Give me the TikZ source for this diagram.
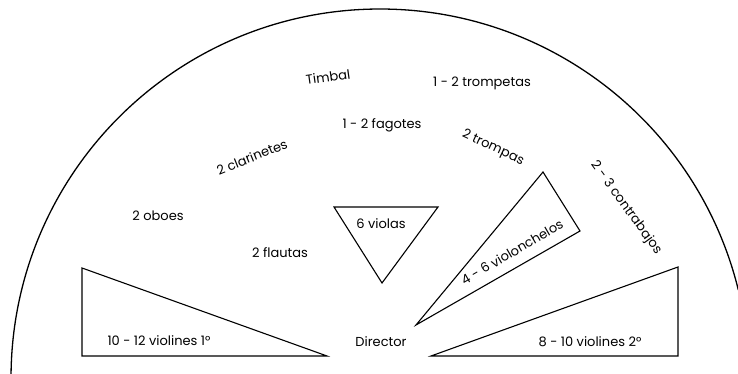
\documentclass[tikz,border=0pt]{standalone}
\usepackage{fontspec}
\setmainfont{Poppins}

\begin{document}
\begin{tikzpicture}[x=1pt,y=1pt,
  seat/.style={font=\fontsize{13}{15}\selectfont, inner sep=1pt},
  section/.style={draw, line width=1.1pt, line join=miter}]
\useasboundingbox (0,0) rectangle (738,374);

% stage edge
\coordinate (ctr) at (380,-4);
\draw[line width=1.3pt] ([shift={(179.4:369)}]ctr) arc[start angle=179.4, end angle=13.8, radius=369];

% string sections
\coordinate (vA1) at (82,106);
\coordinate (vA2) at (82,18);
\coordinate (vA3) at (327,18);
\draw[section] (vA1) -- (vA2) -- (vA3) -- cycle;

\coordinate (vB1) at (431,18);
\coordinate (vB2) at (678,107);
\coordinate (vB3) at (678,18);
\draw[section] (vB1) -- (vB2) -- (vB3) -- cycle;

\coordinate (va1) at (334,167);
\coordinate (va2) at (438,167);
\coordinate (va3) at (382,91);
\draw[section] (va1) -- (va2) -- (va3) -- cycle;

\coordinate (vc1) at (416,49);
\coordinate (vc2) at (543,202);
\coordinate (vc3) at (580,143);
\draw[section] (vc1) -- (vc2) -- (vc3) -- cycle;

% labels
\node[seat] (violines1) at (159,33) {10 - 12 violines 1°};
\node[seat] (violines2) at (590,32) {8 - 10 violines 2°};
\node[seat] (violas) at (381,150) {6 violas};
\node[seat, rotate=30] (cellos) at (512,122) {4 - 6 violonchelos};
\node[seat] (director) at (381,32) {Director};
\node[seat] (oboes) at (158,158) {2 oboes};
\node[seat] (flautas) at (280,121) {2 flautas};
\node[seat, rotate=22] (clarinetes) at (252,217) {2 clarinetes};
\node[seat, rotate=8] (timbal) at (328,297) {Timbal};
\node[seat] (fagotes) at (382,249) {1 - 2 fagotes};
\node[seat] (trompetas) at (482,291) {1 - 2 trompetas};
\node[seat, rotate=-25] (trompas) at (493,226) {2 trompas};
\node[seat, rotate=-54] (contrabajos) at (626,166) {2 - 3 contrabajos};
\end{tikzpicture}
\end{document}
